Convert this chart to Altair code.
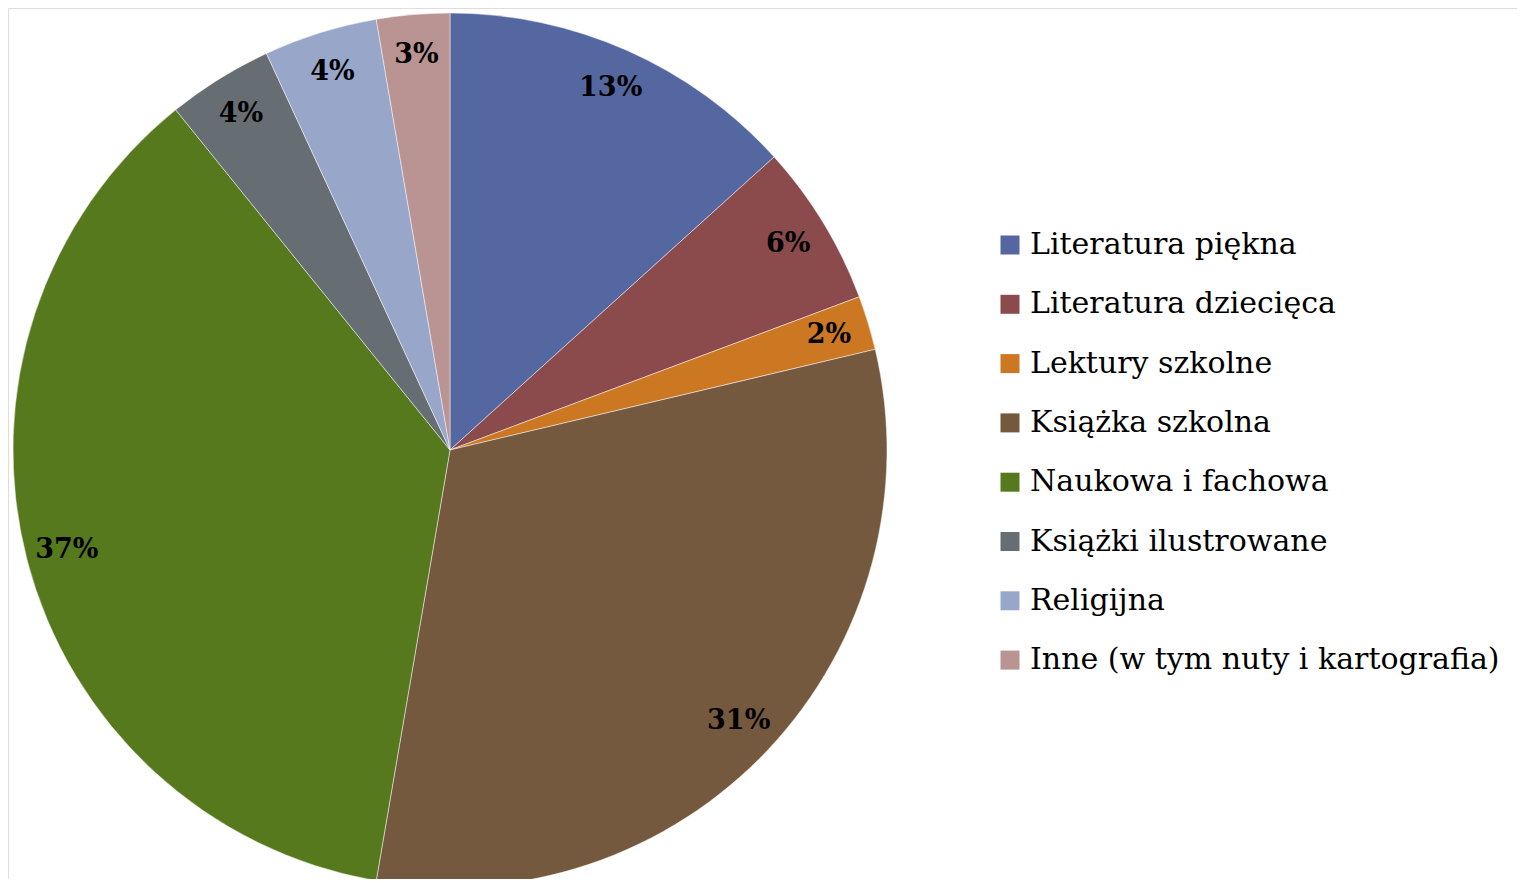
import altair as alt
import pandas as pd

categories = [
    "Literatura piękna",
    "Literatura dziecięca",
    "Lektury szkolne",
    "Książka szkolna",
    "Naukowa i fachowa",
    "Książki ilustrowane",
    "Religijna",
    "Inne (w tym nuty i kartografia)",
]
values = [13.3, 6.0, 2.0, 31.4, 36.5, 3.9, 4.2, 2.7]
labels = ["13%", "6%", "2%", "31%", "37%", "4%", "4%", "3%"]
colors = ["#5467A0", "#8B4A4C", "#CC7722", "#75593F", "#56791D", "#666E73", "#98A6C9", "#B99492"]

df = pd.DataFrame({
    "kategoria": categories,
    "wartosc": values,
    "etykieta": labels,
    "kolejnosc": list(range(len(categories))),
})

cx, cy, R = 442, 442, 437

base = alt.Chart(df).encode(
    theta=alt.Theta("wartosc:Q", stack=True),
    order=alt.Order("kolejnosc:Q", sort="ascending"),
)

pie = base.mark_arc(stroke="#ffffff", strokeWidth=0.6, strokeOpacity=0.8).encode(
    x=alt.value(cx),
    y=alt.value(cy),
    radius=alt.value(R),
    color=alt.Color(
        "kategoria:N",
        scale=alt.Scale(domain=categories, range=colors),
        sort=categories,
        legend=alt.Legend(
            title=None,
            orient="none",
            legendX=987,
            legendY=222,
            symbolType="square",
            symbolSize=361,
            symbolStrokeWidth=0,
            labelFont="DejaVu Serif",
            labelFontSize=30,
            labelColor="#000000",
            labelOffset=5,
            labelLimit=700,
            rowPadding=29.3,
            padding=0,
        ),
    ),
)

text = base.mark_text(
    font="DejaVu Serif", fontSize=27, fontWeight="bold", color="#000000",
    align="center", baseline="middle",
).encode(
    x=alt.value(cx),
    y=alt.value(cy),
    radius=alt.value(396),
    text="etykieta:N",
)

chart = (
    alt.layer(pie, text)
    .properties(width=1509, height=871, padding=0, autosize=alt.AutoSizeParams(type="none"))
    .configure_view(strokeWidth=0, stroke="transparent", strokeOpacity=0, fill="#ffffff")
    .configure(background="#ffffff")
)

chart.save("out.html", embed_options={"renderer": "svg", "actions": False})
